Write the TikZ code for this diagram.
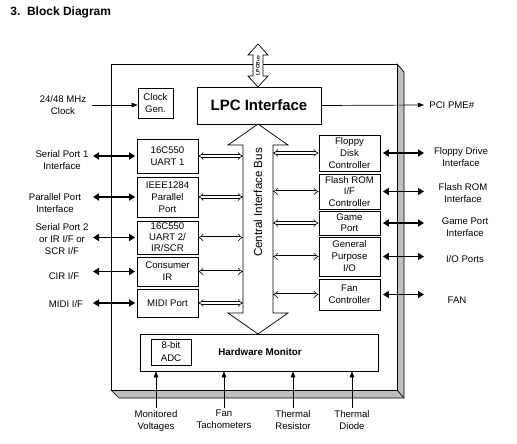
\documentclass[tikz,border=0pt]{standalone}
\usepackage{fontspec}
\setmainfont{Liberation Sans}
\usetikzlibrary{arrows.meta,positioning,calc}

\begin{document}
\begin{tikzpicture}
[x=1pt,y=-1pt,line width=0.7pt,
every node/.style={font=\fontsize{9.6}{12}\selectfont,align=center,inner sep=0pt},
blk/.style={draw,minimum width=61},
busedge/.style={draw,line width=0.6pt,double,double distance=2pt,{Implies}-{Implies}},
extedge/.style={line width=1.6pt,{Triangle[length=6pt,width=7pt]}-{Triangle[length=6pt,width=7pt]}},
sigedge/.style={-{Triangle[length=6pt,width=4.5pt]}},
fatarrow/.style={draw,fill=white}]

\useasboundingbox (0,0) rectangle (517,444);

\node (title) [anchor=west,font=\bfseries\fontsize{12}{14}\selectfont] at (10,12) {3.\ \ Block Diagram};

% chip outline with shadow
\draw[fill=black!25] (397,64) -- (404,72) -- (404,398) -- (119,398) -- (111,390) -- cycle;
\draw (397,390) -- (404,398);
\draw[fill=white] (111,64) rectangle (397,390);

% lpc bus
\draw[fatarrow] (258,44) -- (268,55) -- (263,55) -- (263,76) -- (268,76) -- (258,87)
  -- (248,76) -- (253,76) -- (253,55) -- (248,55) -- cycle;
\node (lpcbus) [rotate=90,font=\bfseries\fontsize{5}{6}\selectfont] at (258,65.5) {LPCBus};

\node (clk) [draw,minimum width=35,minimum height=30] at (155.5,103) {Clock\\Gen.};
\node (lpc) [draw,minimum width=124,minimum height=37,
  font=\bfseries\fontsize{15}{18}\selectfont] at (259,105.5) {LPC Interface};

% central interface bus
\draw[fatarrow] (258,124) -- (288,145) -- (273,145) -- (273,313) -- (288,313) -- (258,334)
  -- (228,313) -- (243,313) -- (243,145) -- (228,145) -- cycle;
\node (cib) [rotate=90,font=\fontsize{11.6}{14}\selectfont] at (258,202.5) {Central Interface Bus};
\coordinate (busL) at (243,0);
\coordinate (busR) at (273,0);

% left blocks
\node (uart1) [blk,minimum height=34] at (167.5,156) {16C550\\UART 1};
\node (par) [blk,minimum height=40] at (167.5,197) {IEEE1284\\Parallel\\Port};
\node (uart2) [blk,minimum height=33,font=\fontsize{9.6}{11}\selectfont] at (167.5,237.5) {16C550\\UART 2/\\IR/SCR};
\node (cir) [blk,minimum height=29] at (167.5,271.5) {Consumer\\IR};
\node (midi) [blk,minimum height=28] at (167.5,303) {MIDI Port};

% right blocks
\node (fdc) [blk,minimum height=36] at (349.5,153) {Floppy\\Disk\\Controller};
\node (flash) [blk,minimum height=35,font=\fontsize{9.6}{11.5}\selectfont] at (349.5,191.5) {Flash ROM\\I/F\\Controller};
\node (game) [blk,minimum height=24,font=\fontsize{9.6}{11}\selectfont] at (349.5,223) {Game\\Port};
\node (gpio) [blk,minimum height=39] at (349.5,256.5) {General\\Purpose\\I/O};
\node (fan) [blk,minimum height=31] at (349.5,294.5) {Fan\\Controller};

\foreach \b in {uart1,par,uart2,cir,midi}
  \draw[busedge] (\b.east) -- (\b.east -| busL);
\foreach \b in {fdc,flash,game,gpio,fan}
  \draw[busedge] (\b.west) -- (\b.west -| busR);

% outside connections
\coordinate (extL) at (93,0);
\coordinate (extR) at (424,0);
\foreach \b in {uart1,par,uart2,cir,midi}
  \draw[extedge,shorten >=1.5pt] (\b.west -| extL) -- (\b.west);
\foreach \b in {fdc,flash,game,gpio,fan}
  \draw[extedge,shorten <=2.5pt] (\b.east) -- (\b.east -| extR);

\node (sp1l) at (62,160) {Serial Port 1\\Interface};
\node (ppl) at (55,203) {Parallel Port\\Interface};
\node (sp2l) at (62,239) {Serial Port 2\\or IR I/F or\\SCR I/F};
\node (cirl) at (64,276) {CIR I/F};
\node (midil) at (66,304) {MIDI I/F};

\node (fdcl) at (461,157) {Floppy Drive\\Interface};
\node (flashl) at (463,193) {Flash ROM\\Interface};
\node (gamel) at (465,227.5) {Game Port\\Interface};
\node (gpiol) at (465,259) {I/O Ports};
\node (fanl) at (457,300) {FAN};

% clock and pme
\coordinate (clkin) at (92,105);
\draw[sigedge] (clkin) -- (clkin -| clk.west);
\node (clkl) at (63,105.5) {24/48 MHz\\Clock};
\coordinate (pme) at (424,105);
\draw[sigedge] (lpc.east) -- (pme);
\node (pmel) [anchor=west] at ($(pme)+(5,0)$) {PCI PME\#};

% hardware monitor
\node (hwm) [draw,minimum width=238,minimum height=37] at (259,352.5) {};
\node (hwmt) [font=\bfseries\fontsize{9.8}{12}\selectfont] at (260,352) {Hardware Monitor};
\node (adc) [draw,minimum width=40,minimum height=26,font=\fontsize{9.6}{13}\selectfont]
  at (171,352) {8-bit\\ADC};

\coordinate (mv) at (156,408);
\coordinate (ft) at (224,408);
\coordinate (tr) at (293,408);
\coordinate (td) at (352,408);
\foreach \c in {mv,ft,tr,td}
  \draw[sigedge] (\c) -- (\c |- hwm.south);
\node (mvl) [below=2pt of mv] {Monitored\\Voltages};
\node (ftl) [below=2pt of ft] {Fan\\Tachometers};
\node (trl) [below=2pt of tr] {Thermal\\Resistor};
\node (tdl) [below=2pt of td] {Thermal\\Diode};

\end{tikzpicture}
\end{document}
